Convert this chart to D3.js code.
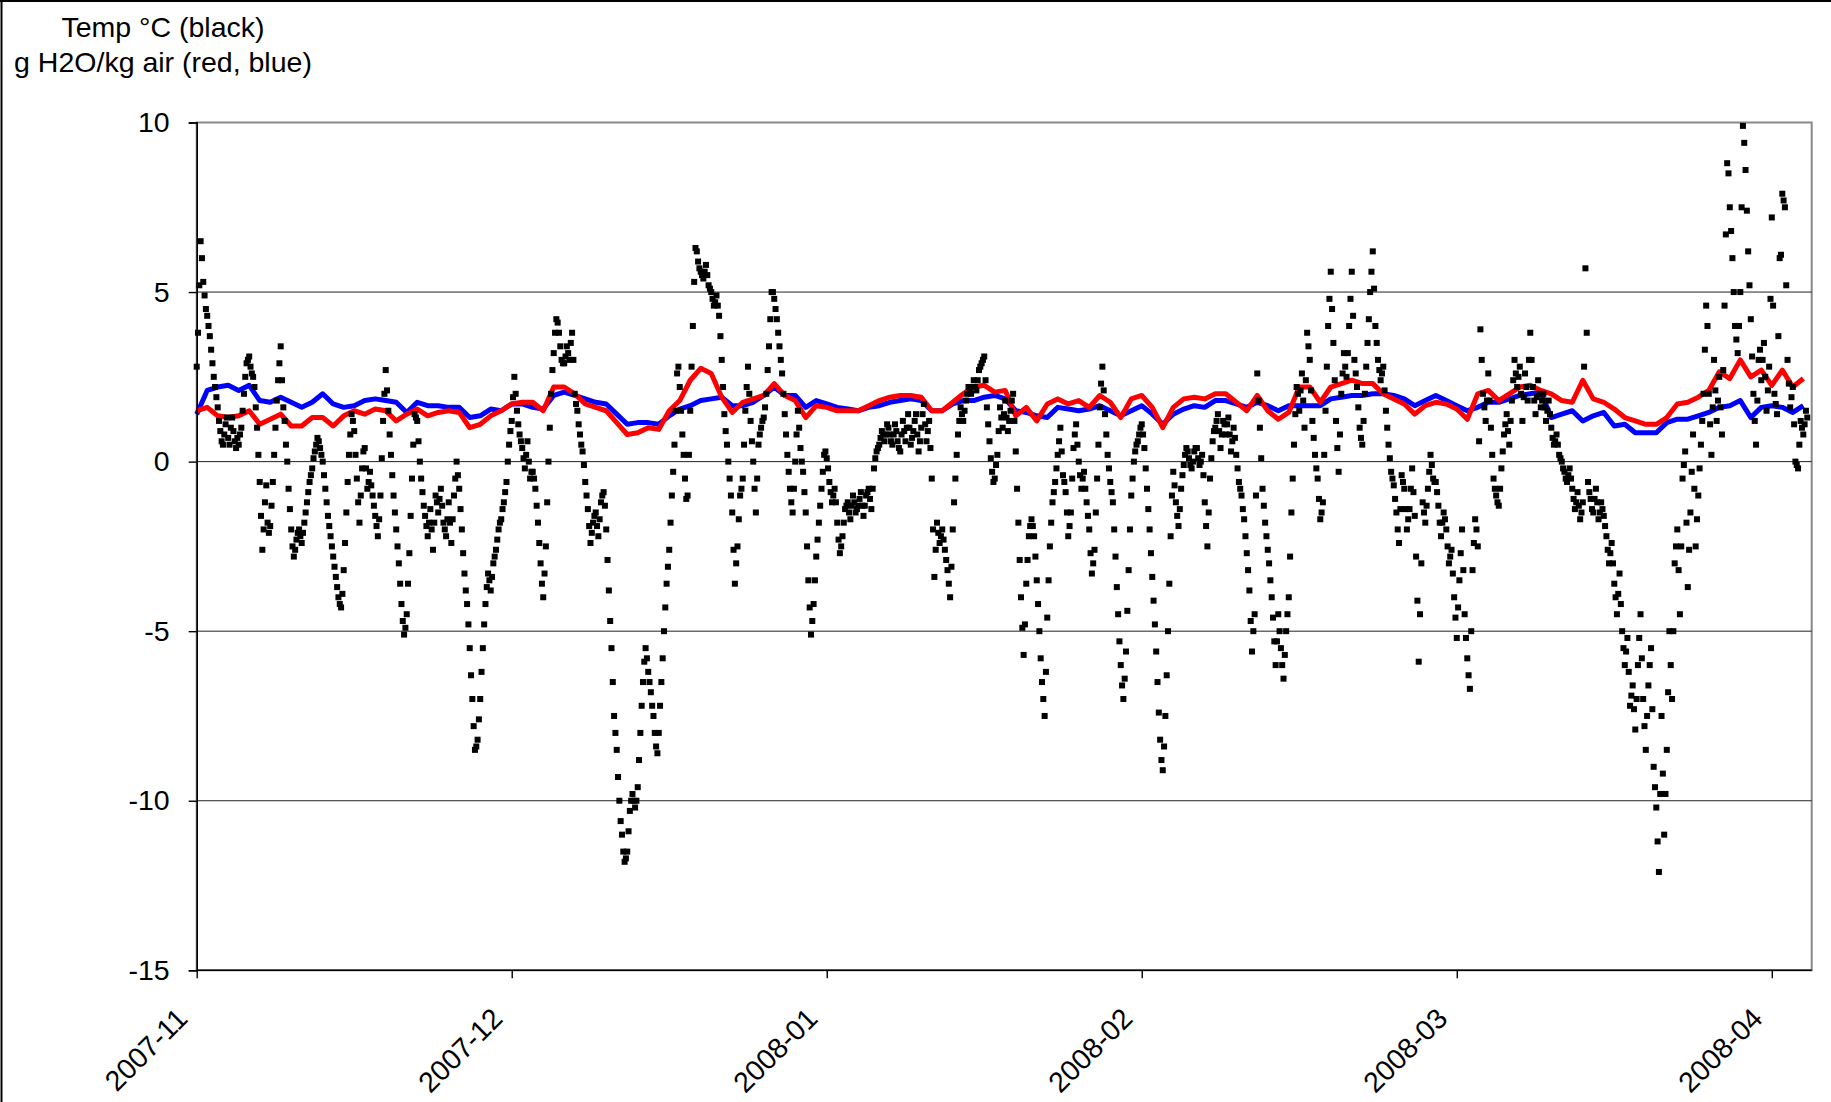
<!DOCTYPE html>
<html><head><meta charset="utf-8">
<script src="https://cdn.jsdelivr.net/npm/d3@7"></script>
<style>
body{margin:0;background:#fff}
svg{display:block}
text{font-family:"Liberation Sans",Arial,Helvetica,sans-serif;fill:#000}
</style>
</head><body>
<svg id="chart" width="1831" height="1102"></svg>
<script>
// ---- data ----
const monthLabels = ["2007-11","2007-12","2008-01","2008-02","2008-03","2008-04"];
const monthTickDays = [0,30,60,90,120,150];
const yTicks = [-15,-10,-5,0,5,10];
const titleLines = ["Temp \u00B0C (black)","g H2O/kg air (red, blue)"];
const samplesPerDay = 8;

// temperature (black squares), 8 readings per day (one row per day)
const tempC = [
 2.8,3.8,5.2,6.5,6.0,5.3,4.9,4.5,
 4.3,4.0,3.7,3.3,2.9,2.5,2.2,1.9,
 1.6,1.2,0.9,0.6,0.5,0.8,1.1,1.3,
 0.7,0.5,1.0,1.3,0.9,0.6,0.4,0.7,
 0.5,0.8,1.0,1.5,2.0,2.5,2.9,3.0,
 3.1,2.8,2.6,2.5,2.2,1.6,1.0,0.2,
 -0.6,-1.6,-2.6,-2.0,-1.2,-0.7,-1.8,-2.1,
 -1.9,-1.3,-0.6,0.2,1.0,1.8,2.4,2.9,
 3.4,2.4,1.6,1.2,0.5,0.0,-0.8,-1.4,
 -2.0,-2.5,-2.8,-2.6,-2.3,-2.1,-2.0,-2.2,
 -2.4,-2.1,-1.8,-1.5,-1.2,-0.9,-0.6,-0.4,
 -0.2,0.1,0.3,0.5,0.7,0.6,0.4,0.2,
 0.0,-0.4,-0.8,-1.2,-1.6,-1.9,-2.2,-2.5,
 -2.8,-3.1,-3.4,-3.7,-4.0,-4.2,-4.3,-3.9,
 -3.2,-2.4,-1.5,-0.6,0.2,0.8,1.4,1.2,
 0.9,0.2,-0.5,-1.2,-1.8,-1.0,-0.2,0.3,
 0.4,-0.2,-0.8,-0.6,-0.3,-0.7,-1.0,-1.3,
 -1.6,-1.9,-2.2,-1.7,-1.0,0.1,1.2,2.0,
 2.7,2.1,1.5,0.8,0.2,-0.4,-1.0,-1.5,
 -2.0,-2.5,-3.0,-3.6,-4.2,-4.7,-5.1,-4.9,
 -4.5,-3.6,-2.7,-1.6,-0.5,0.5,1.4,1.3,
 1.2,0.6,0.0,-0.5,-0.9,-1.3,-1.6,-1.9,
 -2.2,-1.8,-1.4,-2.0,-2.6,-1.8,-1.0,-1.2,
 -1.5,-1.1,-0.8,-1.3,-1.8,-2.0,-2.2,-1.7,
 -1.2,-1.8,-2.4,-1.7,-1.0,-0.5,0.0,-0.4,
 -0.8,-1.4,-2.0,-2.7,-3.3,-3.8,-4.2,-4.8,
 -5.5,-6.3,-7.0,-7.8,-8.5,-8.4,-8.2,-7.6,
 -7.0,-6.2,-5.5,-4.8,-4.2,-3.7,-3.3,-3.5,
 -3.8,-3.4,-3.0,-2.8,-2.6,-2.3,-2.0,-1.8,
 -1.7,-1.4,-1.2,-0.9,-0.6,0.0,0.5,0.9,
 1.2,1.9,2.5,2.0,1.5,1.1,0.8,0.6,
 0.4,0.1,-0.2,0.2,0.6,0.0,-0.5,-0.3,
 -0.3,-0.5,-0.8,-1.3,-1.8,-2.4,-3.0,-3.6,
 -4.0,-3.3,-2.5,-1.2,0.0,1.0,2.0,2.7,
 3.2,3.8,4.2,4.1,3.8,3.4,3.0,2.9,
 2.9,3.1,3.4,3.2,3.0,3.5,3.8,3.0,
 2.0,1.7,1.5,1.1,0.8,0.5,0.3,-0.1,
 -0.6,-1.0,-1.4,-1.9,-2.4,-2.1,-1.8,-1.6,
 -1.5,-1.9,-2.2,-1.7,-1.2,-1.0,-0.9,-1.3,
 -2.0,-2.9,-3.8,-4.7,-5.5,-6.5,-7.5,-8.0,
 -8.5,-9.3,-10.0,-10.6,-11.0,-11.5,-11.8,-11.7,
 -11.5,-10.9,-10.3,-10.0,-9.8,-10.0,-10.2,-10.0,
 -9.6,-8.8,-8.0,-7.2,-6.5,-5.9,-5.5,-5.8,
 -6.2,-6.5,-6.8,-7.2,-7.5,-8.0,-8.4,-8.6,
 -8.0,-7.2,-6.5,-5.8,-5.0,-4.3,-3.6,-3.1,
 -2.6,-1.8,-1.0,-0.3,0.5,1.5,2.6,2.8,
 2.2,1.5,0.8,0.2,-0.5,-1.1,-1.0,0.2,
 1.5,2.8,4.0,5.3,6.3,6.2,5.9,5.7,
 5.6,5.5,5.4,5.6,5.8,5.5,5.2,5.1,
 5.0,4.8,4.6,4.7,4.9,4.6,4.3,3.7,
 3.0,2.2,1.4,0.9,0.5,0.0,-0.5,-1.0,
 -1.5,-2.6,-3.6,-3.0,-2.5,-1.7,-1.0,-0.8,
 -0.5,0.5,1.5,2.2,2.8,2.0,1.2,0.6,
 0.0,-0.8,-1.5,-0.5,0.5,0.8,1.0,1.2,
 1.3,1.6,2.0,2.7,3.4,4.2,5.0,5.0,
 4.8,4.5,4.2,3.8,3.4,3.0,2.6,2.0,
 1.4,0.8,0.2,-0.3,-0.8,-1.2,-1.5,-0.8,
 0.0,0.8,1.5,1.0,0.4,0.0,-0.3,-0.9,
 -1.5,-2.5,-3.5,-4.3,-5.1,-4.7,-4.2,-3.5,
 -2.8,-2.3,-1.8,-1.3,-0.8,-0.3,0.2,0.3,
 0.1,-0.2,-0.6,-0.9,-1.2,-1.0,-0.8,-1.2,
 -1.8,-2.3,-2.7,-2.5,-2.2,-1.8,-1.4,-1.3,
 -1.2,-1.5,-1.7,-1.3,-1.0,-1.2,-1.5,-1.4,
 -1.3,-1.1,-0.9,-1.3,-1.6,-1.3,-1.0,-0.9,
 -0.8,-1.1,-1.4,-0.8,-0.2,0.1,0.3,0.4,
 0.5,0.7,0.9,0.8,0.6,0.8,1.1,1.0,
 0.8,0.6,0.5,0.8,1.1,0.9,0.6,0.4,
 0.3,0.8,1.2,0.9,0.6,1.0,1.4,1.0,
 0.5,0.7,0.9,1.2,1.4,0.8,0.3,0.6,
 1.0,1.4,1.7,1.1,0.6,0.9,1.2,0.4,
 -0.5,-2.0,-3.4,-2.6,-1.8,-2.1,-2.4,-2.2,
 -2.0,-2.3,-2.6,-2.9,-3.2,-3.6,-4.0,-3.1,
 -2.0,-1.2,-0.5,0.2,0.8,1.2,1.6,1.4,
 1.2,1.5,1.8,2.0,2.2,2.1,2.0,2.2,
 2.4,2.2,2.1,2.4,2.7,2.8,2.9,3.0,
 3.1,2.4,1.6,1.1,0.6,0.1,-0.3,-0.6,
 -0.5,-0.1,0.2,0.9,1.6,1.3,1.0,1.4,
 1.8,1.3,0.9,1.2,1.5,1.8,2.0,1.2,
 0.3,-0.8,-1.8,-2.9,-4.0,-4.9,-5.7,-4.8,
 -3.6,-2.9,-2.2,-1.9,-1.7,-1.9,-2.2,-2.8,
 -3.5,-4.2,-5.0,-5.8,-6.5,-7.0,-7.5,-6.2,
 -4.6,-3.5,-2.5,-1.8,-1.2,-0.9,-0.6,-0.2,
 0.2,0.6,1.0,0.3,-0.4,-0.6,-0.9,-1.5,
 -2.2,-1.9,-1.5,-0.5,0.4,0.8,1.1,0.5,
 0.0,-0.4,-0.8,-0.5,-0.3,-0.8,-1.2,-1.6,
 -2.0,-2.7,-3.3,-3.0,-2.6,-1.5,-0.5,0.5,
 1.6,2.3,2.8,2.1,1.4,0.8,0.2,-0.2,
 -0.6,-0.9,-1.2,-2.0,-2.8,-3.7,-4.5,-5.3,
 -6.0,-6.6,-7.0,-6.4,-5.6,-4.4,-3.2,-2.0,
 -1.0,-0.5,0.0,0.3,0.5,0.6,0.8,1.0,
 1.1,0.8,0.4,-0.2,-0.8,-1.4,-2.0,-2.7,
 -3.4,-4.1,-4.8,-5.6,-6.5,-7.4,-8.2,-8.8,
 -9.1,-8.4,-7.5,-6.3,-5.0,-3.6,-2.2,-1.0,
 -0.3,-0.7,-1.2,-1.6,-1.9,-1.4,-0.8,-0.4,
 -0.1,0.2,0.4,0.3,0.1,-0.1,-0.2,0.0,
 0.3,0.4,0.4,0.1,-0.1,0.0,0.2,-0.4,
 -1.2,-1.9,-2.5,-1.5,-0.5,0.1,0.6,0.9,
 1.0,1.2,1.4,0.9,0.4,0.8,1.2,1.1,
 0.8,1.1,1.3,0.8,0.3,0.6,1.0,0.7,
 0.2,-0.2,-0.6,-0.8,-1.0,-1.4,-1.7,-2.2,
 -2.7,-3.2,-3.8,-4.7,-5.6,-5.0,-4.5,-1.0,
 2.6,1.8,1.0,0.1,-0.8,-1.3,-1.8,-2.2,
 -2.6,-3.0,-3.5,-4.0,-4.6,-5.3,-6.0,-5.3,
 -4.5,-5.0,-5.5,-6.0,-6.4,-5.7,-5.0,-4.5,
 -4.0,-2.8,-1.5,-0.5,0.5,1.4,2.2,2.0,
 1.5,2.1,2.6,1.8,1.0,2.4,3.8,3.4,
 3.0,2.1,1.2,0.7,0.2,-0.2,-0.5,-1.1,
 -1.7,-1.5,-1.2,0.2,1.5,2.8,4.0,4.8,
 5.6,4.5,3.5,2.4,1.2,0.4,-0.3,0.8,
 2.0,2.6,3.2,2.8,2.5,3.2,4.0,4.8,
 5.6,4.3,3.0,2.6,2.2,1.6,1.0,0.7,
 0.5,1.2,2.0,2.8,3.5,4.2,5.0,5.6,
 6.2,5.1,4.0,3.5,3.0,2.7,2.4,2.6,
 2.8,2.1,1.5,1.0,0.5,0.1,-0.3,-0.5,
 -0.7,-1.1,-1.5,-2.0,-2.4,-1.4,-0.4,-0.6,
 -0.8,-1.4,-2.0,-1.7,-1.4,-0.8,-0.2,-0.9,
 -1.6,-2.8,-4.1,-5.9,-4.5,-3.0,-1.2,-1.5,
 -1.8,-1.3,-0.8,-0.3,0.2,-0.1,-0.5,-0.6,
 -0.6,-0.9,-1.3,-1.8,-2.2,-1.8,-1.5,-1.7,
 -2.0,-2.5,-3.0,-2.8,-2.6,-3.3,-4.0,-4.6,
 -5.2,-4.3,-3.5,-2.7,-2.0,-3.2,-4.5,-5.2,
 -5.8,-6.3,-6.7,-5.0,-3.2,-2.4,-1.7,-2.0,
 -2.5,0.6,3.9,3.0,2.0,1.6,1.2,1.8,
 2.6,1.8,1.0,0.2,-0.5,-0.8,-1.0,-1.2,
 -1.3,-0.8,-0.2,0.3,0.8,1.1,1.4,0.9,
 0.5,1.2,1.8,2.4,3.0,2.6,2.2,2.5,
 2.8,2.0,1.2,1.9,2.6,2.2,1.8,3.0,
 3.8,3.0,2.2,1.8,1.4,1.9,2.4,2.0,
 1.6,1.8,2.0,1.6,1.2,1.5,1.8,1.4,
 1.0,0.7,0.5,0.6,0.8,0.5,0.2,0.1,
 0.0,-0.2,-0.3,-0.5,-0.6,-0.4,-0.2,-0.5,
 -0.8,-1.1,-1.4,-1.2,-0.9,-1.3,-1.7,-1.5,
 -1.2,2.8,5.7,3.8,-0.6,-0.9,-1.1,-1.4,
 -1.5,-1.1,-0.8,-1.2,-1.7,-1.5,-1.2,-1.4,
 -1.6,-1.9,-2.2,-2.6,-3.0,-2.7,-2.4,-3.0,
 -3.6,-4.0,-4.5,-3.9,-3.3,-4.2,-5.0,-5.5,
 -6.0,-5.6,-5.2,-6.2,-7.2,-6.9,-6.6,-7.3,
 -7.9,-7.0,-6.0,-5.2,-4.5,-5.8,-7.0,-7.8,
 -8.5,-7.5,-6.6,-6.0,-5.5,-7.3,-9.0,-9.6,
 -10.2,-11.2,-12.1,-9.8,-7.5,-9.2,-11.0,-9.8,
 -8.5,-6.8,-5.0,-6.0,-7.0,-5.0,-3.0,-2.5,
 -2.0,-3.2,-4.5,-2.5,-0.5,-0.1,0.3,-1.8,
 -3.7,-2.6,-1.5,-0.3,0.8,-0.8,-2.5,-1.7,
 -1.0,-0.2,0.5,1.2,2.0,3.3,4.6,4.0,
 2.0,1.1,0.2,1.6,3.0,2.1,1.2,1.8,
 2.5,1.6,0.8,2.7,4.6,6.7,8.8,8.5,
 7.5,6.8,6.0,5.0,4.0,3.6,3.2,4.0,
 5.0,7.5,9.9,9.4,8.6,7.4,6.2,5.2,
 4.2,3.1,2.0,1.2,0.5,1.8,3.0,3.3,
 2.4,3.0,3.5,2.5,1.5,2.1,2.8,4.8,
 7.2,4.6,2.0,1.7,1.4,3.7,6.0,6.1,
 7.9,7.7,7.5,5.2,3.0,2.3,1.6,1.9,
 2.2,1.1,0.0,-0.1,-0.2,0.5,1.2,1.0,
 0.8,1.1,1.5,1.3
];

// humidity, one reading per day
const humidRed = [
 1.5,1.6,1.35,1.3,1.35,1.5,1.1,1.25,1.4,1.05, 1.05,1.3,1.3,1.05,1.35,1.5,1.4,1.55,1.5,1.2,
 1.4,1.55,1.35,1.45,1.5,1.45,1.0,1.1,1.35,1.5, 1.7,1.75,1.75,1.5,2.2,2.2,2.0,1.7,1.6,1.5,
 1.15,0.8,0.85,1.0,0.95,1.5,1.8,2.4,2.75,2.6, 1.9,1.45,1.75,1.85,1.95,2.3,1.95,1.8,1.3,1.65,
 1.6,1.5,1.5,1.5,1.65,1.8,1.9,1.95,1.95,1.9, 1.5,1.5,1.75,2.0,2.2,2.25,2.05,2.1,1.35,1.6,
 1.2,1.7,1.85,1.7,1.8,1.6,1.95,1.75,1.3,1.85, 1.95,1.6,1.0,1.6,1.85,1.9,1.85,2.0,2.0,1.75,
 1.5,1.95,1.5,1.25,1.45,2.2,2.2,1.75,2.2,2.3, 2.4,2.3,2.3,2.0,1.85,1.7,1.4,1.65,1.75,1.7,
 1.55,1.25,2.0,2.1,1.8,2.0,2.2,2.25,2.1,2.0, 1.8,1.75,2.4,1.85,1.75,1.55,1.3,1.2,1.1,1.1,
 1.3,1.7,1.75,1.9,2.1,2.65,2.45,3.0,2.5,2.7, 2.25,2.7,2.2,2.45
];
const humidBlue = [
 1.4,2.1,2.2,2.25,2.1,2.25,1.8,1.75,1.9,1.75, 1.6,1.75,2.0,1.7,1.6,1.65,1.8,1.85,1.8,1.75,
 1.45,1.75,1.65,1.65,1.6,1.6,1.3,1.35,1.55,1.5, 1.7,1.7,1.6,1.55,1.95,2.05,1.95,1.85,1.75,1.7,
 1.4,1.1,1.15,1.15,1.1,1.35,1.55,1.65,1.8,1.85, 1.9,1.65,1.65,1.75,1.95,2.2,1.95,1.95,1.6,1.8,
 1.7,1.6,1.55,1.5,1.6,1.65,1.75,1.8,1.85,1.8, 1.5,1.5,1.7,1.8,1.8,1.9,1.95,1.85,1.5,1.45,
 1.35,1.3,1.6,1.55,1.5,1.55,1.65,1.5,1.35,1.5, 1.65,1.4,1.1,1.4,1.55,1.65,1.6,1.8,1.8,1.7,
 1.6,1.75,1.65,1.5,1.65,1.65,1.65,1.65,1.85,1.9, 1.95,1.95,2.0,2.0,1.95,1.85,1.65,1.8,1.95,1.8,
 1.65,1.5,1.6,1.75,1.75,1.85,1.95,2.0,2.05,1.3, 1.4,1.5,1.2,1.35,1.45,1.05,1.1,0.85,0.85,0.85,
 1.15,1.25,1.25,1.35,1.45,1.6,1.65,1.8,1.3,1.6, 1.65,1.6,1.45,1.65
];

// ---- chart ----
const W = 1831, H = 1102;
const svg = d3.select("#chart");
const plot = {left:196.7, right:1811.7, top:122.5, bottom:970.3};
const x = d3.scaleLinear().domain([0,153.8]).range([plot.left, plot.right]);
const y = d3.scaleLinear().domain([-15,10]).range([plot.bottom, plot.top]);
const FS = 28.5;

// outer chart frame (left + top edges visible)
svg.append("line").attr("x1",1.5).attr("y1",0).attr("x2",1.5).attr("y2",H).attr("stroke","#000").attr("stroke-width",2);
svg.append("line").attr("x1",0).attr("y1",1).attr("x2",W).attr("y2",1).attr("stroke","#000").attr("stroke-width",2);

// plot area border
svg.append("rect").attr("x",plot.left).attr("y",plot.top)
  .attr("width",plot.right-plot.left).attr("height",plot.bottom-plot.top)
  .attr("fill","none").attr("stroke","#888").attr("stroke-width",2);

// gridlines
svg.append("g").selectAll("line").data(yTicks.filter(v=>v>-15 && v<10)).join("line")
  .attr("x1",plot.left).attr("x2",plot.right)
  .attr("y1",d=>y(d)).attr("y2",d=>y(d))
  .attr("stroke","#222").attr("stroke-width",1);

// humidity lines
const dayLine = d3.line().x((d,i)=>x(i)).y(d=>y(d));
svg.append("path").datum(humidBlue).attr("d",dayLine)
  .attr("fill","none").attr("stroke","#0000ff").attr("stroke-width",5).attr("stroke-linejoin","round");
svg.append("path").datum(humidRed).attr("d",dayLine)
  .attr("fill","none").attr("stroke","#ff0000").attr("stroke-width",5).attr("stroke-linejoin","round");

// temperature squares
const sq = 6;
svg.append("g").selectAll("rect").data(tempC).join("rect")
  .attr("x",(d,i)=>x(i/samplesPerDay)-sq/2)
  .attr("y",d=>y(d)-sq/2)
  .attr("width",sq).attr("height",sq).attr("fill","#000");

// y axis
const yAxis = d3.axisLeft(y).tickValues(yTicks).tickSize(8).tickPadding(19).tickFormat(d=>String(d));
const gy = svg.append("g").attr("transform",`translate(${plot.left},0)`).call(yAxis);
gy.select(".domain").attr("stroke","#000").attr("stroke-width",1.6);
gy.selectAll(".tick line").attr("stroke","#000").attr("stroke-width",1.4);
gy.selectAll(".tick text").attr("font-size",FS).attr("font-family","Liberation Sans, Arial, sans-serif").attr("fill","#000");

// x axis
const xAxis = d3.axisBottom(x).tickValues(monthTickDays).tickSize(8).tickFormat((d,i)=>monthLabels[i]);
const gx = svg.append("g").attr("transform",`translate(0,${plot.bottom})`).call(xAxis);
gx.select(".domain").attr("stroke","#000").attr("stroke-width",1.6).attr("d",`M${plot.left},0H${plot.right}`);
gx.selectAll(".tick line").attr("stroke","#000").attr("stroke-width",1.4);
gx.selectAll(".tick text")
  .attr("font-size",FS).attr("font-family","Liberation Sans, Arial, sans-serif").attr("fill","#000")
  .attr("text-anchor","end").attr("y",0).attr("dy",0)
  .attr("transform","translate(-8,50) rotate(-45)");

// title
svg.append("g").selectAll("text").data(titleLines).join("text")
  .attr("x",163).attr("y",(d,i)=>37+i*34.5)
  .attr("text-anchor","middle").attr("font-size",FS)
  .text(d=>d);
</script>
</body></html>
